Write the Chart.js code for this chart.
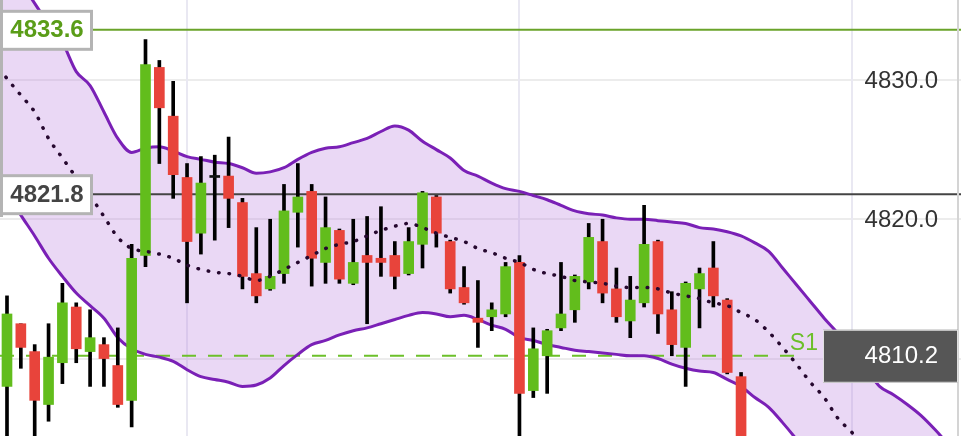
<!DOCTYPE html>
<html>
<head>
<meta charset="utf-8">
<script src="https://cdn.jsdelivr.net/npm/chart.js@4.4.1/dist/chart.umd.min.js"></script>
<style>
    html, body { margin: 0; padding: 0; background: #fff; }
    #wrap { width: 961px; height: 436px; position: relative; }
</style>
</head>
<body>
<div id="wrap"><canvas id="chart"></canvas></div>
<script>
// Свечи (индекс свечи = позиция по оси x)
const opens  = [4808.0, 4812.5, 4810.5, 4806.7, 4809.7, 4813.7, 4810.5, 4811.0, 4809.5, 4807.0,
                4817.4, 4830.9, 4827.4, 4823.0, 4819.0, 4823.0, 4823.1, 4821.2, 4816.1, 4815.0,
                4816.1, 4820.5, 4822.0, 4816.9, 4819.2, 4815.4, 4817.4, 4817.2, 4817.4, 4816.1,
                4818.2, 4821.6, 4818.4, 4815.1, 4812.9, 4813.0, 4813.2, 4816.9, 4807.7, 4810.2,
                4812.2, 4813.5, 4815.5, 4818.4, 4815.0, 4812.7, 4814.0, 4818.4, 4813.5, 4810.8,
                4815.0, 4816.5, 4814.2, 4808.7];
const highs  = [4814.5, 4812.5, 4811.0, 4812.5, 4815.4, 4814.0, 4813.5, 4811.5, 4812.2, 4818.2,
                4832.9, 4831.4, 4829.9, 4824.0, 4824.5, 4824.6, 4825.9, 4821.5, 4819.4, 4820.0,
                4822.5, 4824.0, 4822.5, 4821.6, 4819.3, 4820.0, 4820.2, 4820.9, 4818.4, 4819.4,
                4822.0, 4821.7, 4818.5, 4816.6, 4815.6, 4814.0, 4816.9, 4817.4, 4812.2, 4812.1,
                4816.9, 4816.0, 4819.7, 4820.0, 4816.5, 4815.9, 4821.0, 4818.5, 4814.8, 4815.5,
                4816.5, 4818.4, 4814.3, 4809.0];
const lows   = [4804.2, 4809.3, 4804.2, 4805.5, 4808.2, 4809.7, 4808.0, 4808.0, 4806.5, 4805.1,
                4816.6, 4824.0, 4821.5, 4814.0, 4817.5, 4818.5, 4819.4, 4815.0, 4814.0, 4814.9,
                4815.4, 4818.0, 4815.2, 4815.4, 4815.4, 4815.3, 4812.5, 4815.9, 4815.0, 4816.0,
                4816.5, 4818.0, 4814.7, 4813.9, 4810.8, 4812.0, 4813.0, 4804.2, 4807.2, 4807.5,
                4812.0, 4812.6, 4815.0, 4814.0, 4812.6, 4811.5, 4813.7, 4811.8, 4810.2, 4808.0,
                4812.2, 4813.7, 4808.9, 4803.5];
const closes = [4813.2, 4810.8, 4807.0, 4810.1, 4814.0, 4810.7, 4811.5, 4810.0, 4806.7, 4817.2,
                4831.1, 4828.0, 4823.2, 4818.4, 4822.6, 4823.0, 4821.5, 4815.9, 4814.5, 4815.9,
                4820.6, 4821.6, 4817.2, 4819.4, 4815.7, 4816.9, 4816.9, 4816.9, 4815.9, 4818.4,
                4821.9, 4819.0, 4815.0, 4814.0, 4812.6, 4813.5, 4816.6, 4807.5, 4810.7, 4812.0,
                4813.2, 4815.9, 4818.7, 4814.7, 4813.0, 4814.2, 4818.2, 4813.2, 4811.0, 4815.4,
                4816.1, 4814.5, 4809.0, 4803.8];

// Полосы Боллинджера, первая точка на индексе -1
const bandStart = -1;
const bandUpper = [4839.9, 4838.5, 4837.0, 4835.5, 4834.0, 4832.7, 4830.6, 4829.6, 4827.7, 4825.8,
                   4824.8, 4825.1, 4825.2, 4824.9, 4824.5, 4824.3, 4824.1, 4824.0, 4823.7, 4823.3,
                   4823.4, 4823.7, 4824.3, 4824.8, 4825.1, 4825.2, 4825.5, 4825.8, 4826.3, 4826.7,
                   4826.4, 4825.6, 4825.0, 4824.4, 4823.5, 4823.1, 4822.6, 4822.2, 4822.0, 4821.7,
                   4821.4, 4821.0, 4820.6, 4820.4, 4820.3, 4820.1, 4820.0, 4820.0, 4819.9, 4819.8,
                   4819.7, 4819.4, 4819.3, 4819.1, 4818.8, 4818.3, 4817.7, 4816.5, 4815.3, 4814.1,
                   4812.9, 4811.8, 4810.5, 4809.3, 4808.0, 4807.4, 4806.7, 4805.9, 4804.9, 4803.8];
const bandMiddle = [4831.4, 4830.1, 4828.9, 4827.7, 4825.8, 4824.4, 4823.0, 4821.7, 4820.2, 4818.7,
                    4817.9, 4817.7, 4817.5, 4817.2, 4816.7, 4816.4, 4816.2, 4816.1, 4815.9, 4815.6,
                    4815.9, 4816.4, 4816.9, 4817.4, 4817.9, 4818.2, 4818.4, 4818.8, 4819.2, 4819.5,
                    4819.7, 4819.4, 4819.0, 4818.7, 4818.4, 4817.9, 4817.6, 4817.2, 4816.9, 4816.4,
                    4816.1, 4815.9, 4815.6, 4815.5, 4815.4, 4815.2, 4815.1, 4815.1, 4815.0, 4814.7,
                    4814.5, 4814.3, 4814.0, 4813.8, 4813.3, 4812.8, 4811.9, 4810.8, 4809.6, 4808.3,
                    4807.2, 4805.7, 4804.7, 4803.4];
const bandLower = [4823.4, 4821.9, 4820.3, 4818.8, 4817.2, 4815.9, 4814.7, 4813.8, 4812.9, 4811.5,
                   4810.7, 4810.3, 4810.1, 4809.8, 4809.2, 4808.7, 4808.5, 4808.3, 4808.0, 4808.1,
                   4808.6, 4809.5, 4810.3, 4811.0, 4811.3, 4811.7, 4812.0, 4812.2, 4812.5, 4812.8,
                   4813.1, 4813.3, 4813.2, 4813.0, 4813.1, 4812.8, 4812.4, 4812.1, 4811.5, 4811.3,
                   4811.0, 4810.8, 4810.6, 4810.5, 4810.4, 4810.3, 4810.2, 4810.2, 4810.0, 4809.6,
                   4809.3, 4809.1, 4809.0, 4808.5, 4808.0, 4807.2, 4806.5, 4805.4, 4804.2, 4802.9,
                   4801.6, 4800.3, 4799.0, 4797.7, 4796.4, 4795.1, 4793.8, 4792.5, 4791.2, 4789.9];

// Уровни и шкала
const levelTop = 4833.6;
const levelPivot = 4821.8;
const levelS1 = 4810.2;
const s1End = 57.3;
const yTicks = [4810, 4820, 4830];
const xGrid = [13, 37, 61];
const xMin = -0.505, xMax = 68.88;
const yMin = 4804.44, yMax = 4835.74;

const GREEN = '#62bd1c';
const RED = '#e8443b';
const FONT = '"Liberation Sans", Arial, sans-serif';

function bandPoints(values) {
    return values.map((v, k) => ({ x: bandStart + k, y: v }));
}

function levelLine(value, endX) {
    return [{ x: xMin, y: value }, { x: endX, y: value }];
}

// Сетка под графиком, подписи поверх
const overlayPlugin = {
    id: 'overlay',
    beforeDraw(chart) {
        const ctx = chart.ctx;
        const { x, y } = chart.scales;
        const area = chart.chartArea;
        ctx.save();
        ctx.lineWidth = 2;
        ctx.strokeStyle = '#ececec';
        yTicks.forEach(v => {
            const py = Math.round(y.getPixelForValue(v));
            ctx.beginPath();
            ctx.moveTo(area.left, py);
            ctx.lineTo(area.right, py);
            ctx.stroke();
        });
        ctx.strokeStyle = '#e9e8f2';
        xGrid.forEach(v => {
            const px = Math.round(x.getPixelForValue(v));
            ctx.beginPath();
            ctx.moveTo(px, area.top);
            ctx.lineTo(px, area.bottom);
            ctx.stroke();
        });
        ctx.restore();
    },
    afterDraw(chart) {
        const ctx = chart.ctx;
        const y = chart.scales.y;
        ctx.save();

        // Подписи шкалы справа
        ctx.font = '24px ' + FONT;
        ctx.fillStyle = '#333333';
        ctx.textAlign = 'right';
        ctx.textBaseline = 'middle';
        yTicks.forEach(v => ctx.fillText(v.toFixed(1), 938, y.getPixelForValue(v) + 1));

        ctx.fillStyle = '#b4b4b4';
        ctx.fillRect(0, 0, 3, 217);
        ctx.fillStyle = '#d4d4d4';
        ctx.fillRect(957, 0, 2, chart.height);

        drawLeftLabel(ctx, levelTop, y.getPixelForValue(levelTop), '#5a9d18');
        drawLeftLabel(ctx, levelPivot, y.getPixelForValue(levelPivot), '#444444');

        const ys = y.getPixelForValue(levelS1);
        ctx.font = '23px ' + FONT;
        ctx.fillStyle = '#6cbf2a';
        ctx.textAlign = 'right';
        ctx.textBaseline = 'alphabetic';
        ctx.fillText('S1', 818, ys - 6);

        ctx.fillStyle = '#565656';
        ctx.fillRect(823, ys - 26, 135, 53);
        ctx.strokeStyle = '#e0e0e0';
        ctx.lineWidth = 1;
        ctx.strokeRect(823.5, ys - 25.5, 134, 52);
        ctx.font = '24px ' + FONT;
        ctx.fillStyle = '#ffffff';
        ctx.textBaseline = 'middle';
        ctx.fillText(levelS1.toFixed(1), 938, ys + 1);

        ctx.restore();
    }
};

function drawLeftLabel(ctx, value, yPix, color) {
    ctx.fillStyle = '#ffffff';
    ctx.fillRect(3, yPix - 18, 89, 37);
    ctx.strokeStyle = '#b4b4b4';
    ctx.lineWidth = 3;
    ctx.strokeRect(1.5, yPix - 18.5, 90, 38);
    ctx.font = 'bold 24px ' + FONT;
    ctx.fillStyle = color;
    ctx.textAlign = 'center';
    ctx.textBaseline = 'middle';
    ctx.fillText(value.toFixed(1), 47, yPix + 1);
}

function createCandleChart(canvasId) {
    const canvas = document.getElementById(canvasId);
    if (!canvas) return;

    const wicks = lows.map((l, i) => ({ x: i, y: [l, highs[i]] }));
    const bodies = opens.map((o, i) => ({ x: i, y: [o, closes[i]] }));
    const bodyColors = opens.map((o, i) => closes[i] > o ? GREEN : (closes[i] < o ? RED : '#111111'));

    const datasets = [
        {
            type: 'line', data: bandPoints(bandUpper), borderColor: '#7a20b6', borderWidth: 3,
            pointRadius: 0, tension: 0.4, cubicInterpolationMode: 'monotone',
            fill: '+1', backgroundColor: 'rgba(185,125,222,0.3)', order: 3
        },
        {
            type: 'line', data: bandPoints(bandLower), borderColor: '#7a20b6', borderWidth: 3,
            pointRadius: 0, tension: 0.4, cubicInterpolationMode: 'monotone', fill: false, order: 3
        },
        {
            type: 'line', data: bandPoints(bandMiddle), borderColor: '#26082f', borderWidth: 3.5,
            borderDash: [0.5, 10], borderCapStyle: 'round',
            pointRadius: 0, tension: 0.4, cubicInterpolationMode: 'monotone', fill: false, order: 0
        },
        {
            type: 'line', data: levelLine(levelTop, xMax), borderColor: '#6aa32a', borderWidth: 2,
            pointRadius: 0, fill: false, order: 4
        },
        {
            type: 'line', data: levelLine(levelPivot, xMax), borderColor: '#444444', borderWidth: 2,
            pointRadius: 0, fill: false, order: 4
        },
        {
            type: 'line', data: levelLine(levelS1, s1End), borderColor: '#6cc02a', borderWidth: 2,
            borderDash: [14, 12], pointRadius: 0, fill: false, order: 4
        },
        {
            type: 'bar', data: wicks, backgroundColor: '#000000', barThickness: 3,
            grouped: false, order: 2
        },
        {
            type: 'bar', data: bodies, backgroundColor: bodyColors, barThickness: 10,
            minBarLength: 2, grouped: false, order: 1
        }
    ];

    canvas.chart = new Chart(canvas, {
        type: 'bar',
        data: { datasets: datasets },
        options: {
            responsive: true,
            maintainAspectRatio: false,
            animation: false,
            layout: { padding: 0 },
            plugins: {
                legend: { display: false },
                tooltip: { enabled: false },
                filler: { drawTime: 'beforeDatasetsDraw' }
            },
            scales: {
                x: { type: 'linear', display: false, min: xMin, max: xMax, offset: false },
                y: { display: false, min: yMin, max: yMax }
            }
        },
        plugins: [overlayPlugin]
    });

    return canvas.chart;
}

createCandleChart('chart');
</script>
</body>
</html>
